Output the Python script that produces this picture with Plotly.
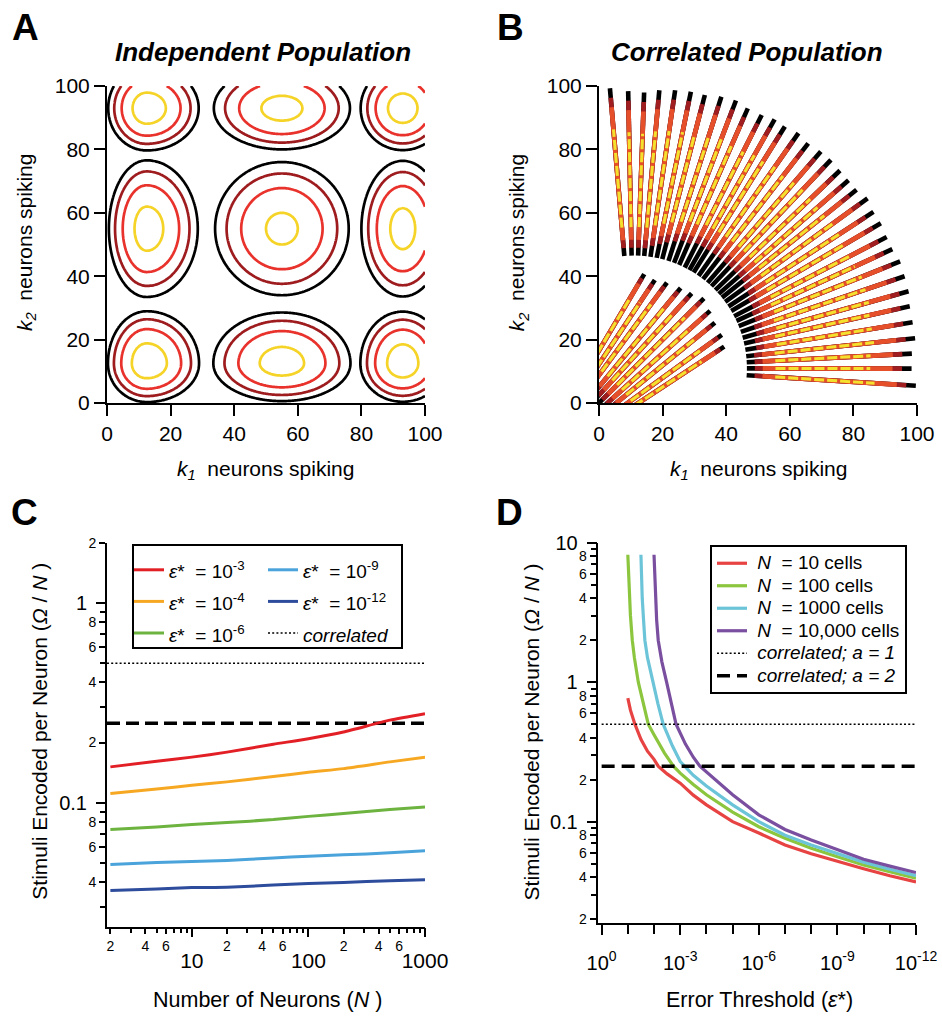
import numpy as np
import plotly.graph_objects as go

# ======================= DATA =======================
# ---- Panel A : independent population (peak model parameters) ----
A_centers = [12.5, 55.0, 93.0]          # peak positions (same for k1 and k2)
A_log_peaks = [1.76, 1.59, 1.71]        # log peak height of each 1-D factor
A_width_lo = [4.6, 8.33, 5.06]          # spread on the low side of each peak
A_width_hi = [6.2, 8.33, 5.06]          # spread on the high side of each peak
A_levels = [0, 1, 2, 3]
A_level_colors = ["#000000", "#9E1B1E", "#E8322B", "#F5D327"]

# ---- Panel B : correlated population (streak fans) ----
B_outer_origin = [11.0, 11.0]
B_outer_angles = [94.9, 91.2, 87.9, 84.8, 81.6, 78.4, 75.5, 72.2, 69.2, 66.4, 63.3, 60.6,
                  58.1, 55.1, 52.3, 49.3, 46.7, 43.9, 41.3, 38.8, 36.1, 33.2, 30.5, 27.5,
                  24.8, 21.9, 18.8, 15.7, 12.7, 9.4, 6.1, 3.0, -0.1, -3.6]
B_outer_r_out = [88.6, 87.4, 87.0, 88.0, 88.6, 89.0, 89.0, 89.9, 90.3, 89.4, 89.4, 90.1,
                 89.8, 90.4, 89.6, 90.1, 90.3, 89.9, 89.8, 89.8, 90.9, 90.0, 90.1, 89.6,
                 89.5, 90.2, 89.9, 89.7, 88.9, 88.8, 88.9, 87.5, 87.3, 88.8]
# extra length of the dark inner tail of each outer streak (longer in the crowded middle)
B_outer_dark_tail = [0, 0, 0, 0, 1, 2, 3, 4, 5, 5, 6, 6,
                     6, 6, 6, 6, 6, 6, 6, 6, 5, 5, 4, 4,
                     3, 3, 2, 2, 1, 1, 0, 0, 0, 0]
B_outer_r_in = 35.5
B_inner_origin = [-24.0, -24.0]
B_inner_angles = [59.4, 56.5, 53.8, 50.5, 47.8, 45.0, 42.0, 39.2, 36.0, 33.4]
B_inner_r_out = [75.1, 75.3, 76.8, 78.1, 79.1, 80.6, 79.3, 78.0, 77.4, 75.9]
B_inner_r_in = 30.0
B_band_colors = ["#000000", "#A11E20", "#E5502A", "#F3E12E"]
B_outer_band_trim = [[0.0, 0.0], [2.5, 3.0], [5.0, 6.0], [9.0, 13.0]]
B_inner_band_trim = [[0.0, 0.0], [5.5, 1.5], [8.0, 3.5], [12.0, 8.5]]

# ---- Panel C ----
C_N = [2, 5, 10, 20, 50, 100, 200, 500, 1000]
C_eps_m3 = [0.151, 0.161, 0.169, 0.179, 0.196, 0.209, 0.226, 0.259, 0.279]
C_eps_m4 = [0.111, 0.117, 0.122, 0.127, 0.135, 0.142, 0.148, 0.160, 0.169]
C_eps_m6 = [0.0733, 0.0754, 0.0776, 0.0794, 0.0822, 0.0853, 0.0881, 0.0923, 0.0951]
C_eps_m9 = [0.0489, 0.0501, 0.0507, 0.0513, 0.0527, 0.0539, 0.0547, 0.0560, 0.0573]
C_eps_m12 = [0.0363, 0.0369, 0.0375, 0.0377, 0.0386, 0.0393, 0.0398, 0.0406, 0.0411]
C_series_exps = ["-3", "-4", "-6", "-9", "-12"]
C_series_colors = ["#E31F26", "#F7A823", "#6DB33F", "#4AA3DA", "#2E4C9C"]
C_correlated_a1 = 0.5
C_correlated_a2 = 0.25
C_xrange_log = [0.272, 3.0]
C_yrange_log = [-1.6235, 0.30103]
C_x_major = [10, 100, 1000]
C_x_labelled = [2, 4, 6, 20, 40, 60, 200, 400, 600]
C_x_plain = [3, 5, 7, 8, 9, 30, 50, 70, 80, 90, 300, 500, 700, 800, 900]
C_y_major = [0.1, 1]
C_y_labelled = [0.04, 0.06, 0.08, 0.2, 0.4, 0.6, 0.8, 2]
C_y_plain = [0.03, 0.05, 0.07, 0.09, 0.3, 0.5, 0.7, 0.9]

# ---- Panel D ----  (x given as the exponent e of epsilon* = 10^-e)
D_n10_exp = [1.0, 1.1, 1.27, 1.5, 1.75, 2.0, 2.16, 2.5, 3.0, 3.5, 4.0, 5.0, 6.0, 7.0, 8.0, 9.0, 10.0, 11.0, 12.0]
D_n10_val = [0.77, 0.63, 0.50, 0.39, 0.32, 0.28, 0.25, 0.22, 0.189, 0.155, 0.132, 0.100, 0.083, 0.068, 0.059, 0.052, 0.046, 0.041, 0.037]
D_n100_exp = [1.0, 1.03, 1.06, 1.1, 1.17, 1.25, 1.4, 1.6, 1.78, 2.0, 2.4, 2.74, 3.0, 3.5, 4.0, 5.0, 6.0, 7.0, 8.0, 9.0, 10.0, 11.0, 12.0]
D_n100_val = [8.2, 5.5, 4.0, 3.0, 2.0, 1.5, 1.0, 0.68, 0.50, 0.42, 0.31, 0.25, 0.223, 0.185, 0.156, 0.117, 0.092, 0.076, 0.0645, 0.056, 0.049, 0.0439, 0.0394]
D_n1000_exp = [1.5, 1.52, 1.55, 1.6, 1.65, 1.75, 1.95, 2.15, 2.35, 2.7, 3.0, 3.18, 3.5, 4.0, 5.0, 6.0, 7.0, 8.0, 9.0, 10.0, 11.0, 12.0]
D_n1000_val = [8.2, 6.0, 4.0, 2.8, 2.0, 1.5, 1.0, 0.70, 0.50, 0.35, 0.27, 0.25, 0.215, 0.18, 0.132, 0.100, 0.080, 0.068, 0.0594, 0.0513, 0.0456, 0.0411]
D_n10000_exp = [2.0, 2.02, 2.05, 2.1, 2.16, 2.3, 2.48, 2.65, 2.84, 3.2, 3.5, 3.75, 4.0, 4.5, 5.0, 6.0, 7.0, 8.0, 9.0, 10.0, 11.0, 12.0]
D_n10000_val = [8.2, 6.0, 4.0, 2.8, 2.0, 1.4, 1.0, 0.70, 0.50, 0.36, 0.29, 0.25, 0.227, 0.19, 0.156, 0.112, 0.088, 0.074, 0.0628, 0.0538, 0.048, 0.0432]
D_series_names = ["10 cells", "100 cells", "1000 cells", "10,000 cells"]
D_series_colors = ["#E84343", "#8CC63F", "#6CC4D8", "#7A4FA0"]
D_correlated_a1 = 0.5
D_correlated_a2 = 0.25
D_xrange_log = [0.15, -12.0]
D_yrange_log = [-1.724, 1.0]
D_x_labelled_exp = [0, 3, 6, 9, 12]
D_x_plain_exp = [1, 2, 4, 5, 7, 8, 10, 11]
D_y_major = [0.1, 1, 10]
D_y_labelled = [0.02, 0.04, 0.06, 0.08, 0.2, 0.4, 0.6, 0.8, 2, 4, 6, 8]
D_y_plain = [0.03, 0.05, 0.07, 0.09, 0.3, 0.5, 0.7, 0.9, 3, 5, 7, 9]

# ======================= LAYOUT HELPERS =======================
W, H = 942, 1020
FONT = "Arial, 'Liberation Sans', Helvetica, sans-serif"


def px(x):
    return x / W


def py(y):
    return 1 - y / H


def font(size, color="black"):
    return dict(family=FONT, size=size, color=color)


def fmt(v):
    return ("%g" % v).replace("0.0", "").replace("0.", "")[-1:]


fig = go.Figure()

# ======================= PANEL A =======================
grid_k = np.linspace(0, 100, 251)


def profile(v):
    out = np.full_like(v, -np.inf)
    for c, a, slo, shi in zip(A_centers, A_log_peaks, A_width_lo, A_width_hi):
        s = np.where(v < c, slo, shi)
        out = np.maximum(out, a - (v - c) ** 2 / (2 * s ** 2))
    return out


fk = profile(grid_k)
Z = np.round(fk[None, :] + fk[:, None], 3)
nlev = len(A_levels) - 1
fig.add_trace(go.Contour(
    x=grid_k, y=grid_k, z=Z, xaxis="x", yaxis="y",
    contours=dict(start=A_levels[0], end=A_levels[-1], size=1, coloring="lines"),
    colorscale=[[i / nlev, c] for i, c in enumerate(A_level_colors)],
    zmin=A_levels[0], zmax=A_levels[-1], showscale=False,
    line=dict(width=2.7), hoverinfo="skip", showlegend=False))

# ======================= PANEL B =======================


def ray_lines(origin, angles, r_in, r_outs, trim, tails):
    xs, ys = [], []
    for ang, ro, tail in zip(angles, r_outs, tails):
        t = np.deg2rad(ang)
        r0 = r_in + trim[0] + (tail if trim[0] > 0 else 0)
        r1 = ro - trim[1]
        xs += [origin[0] + r0 * np.cos(t), origin[0] + r1 * np.cos(t), None]
        ys += [origin[1] + r0 * np.sin(t), origin[1] + r1 * np.sin(t), None]
    return xs, ys


for bi, col in enumerate(B_band_colors):
    is_core = bi == len(B_band_colors) - 1
    for origin, angs, rin, routs, trims, tails in [
            (B_outer_origin, B_outer_angles, B_outer_r_in, B_outer_r_out, B_outer_band_trim,
             B_outer_dark_tail),
            (B_inner_origin, B_inner_angles, B_inner_r_in, B_inner_r_out, B_inner_band_trim,
             [0] * len(B_inner_angles))]:
        xs, ys = ray_lines(origin, angs, rin, routs, trims[bi], tails)
        fig.add_trace(go.Scatter(
            x=xs, y=ys, mode="lines", xaxis="x2", yaxis="y2",
            line=dict(color=col, width=3.0 if is_core else 4.6,
                      dash="10px,3px" if is_core else "solid"),
            hoverinfo="skip", showlegend=False))

# ======================= PANEL C =======================
C_xspan = [10 ** C_xrange_log[0], 10 ** C_xrange_log[1]]
fig.add_trace(go.Scatter(x=C_xspan, y=[C_correlated_a1] * 2, mode="lines", xaxis="x3", yaxis="y3",
                         line=dict(color="black", width=1.5, dash="2px,2.2px"),
                         name="<span style='font-size:19px'><i>correlated</i></span>",
                         legend="legend2", legendrank=6, hoverinfo="skip"))
fig.add_trace(go.Scatter(x=C_xspan, y=[C_correlated_a2] * 2, mode="lines", xaxis="x3", yaxis="y3",
                         line=dict(color="black", width=3.5, dash="13px,6px"),
                         showlegend=False, hoverinfo="skip"))
C_series = [C_eps_m3, C_eps_m4, C_eps_m6, C_eps_m9, C_eps_m12]
for i, (vals, e, col) in enumerate(zip(C_series, C_series_exps, C_series_colors)):
    fig.add_trace(go.Scatter(
        x=C_N, y=vals, mode="lines", xaxis="x3", yaxis="y3",
        line=dict(color=col, width=3, shape="spline", smoothing=0.6),
        name="<span style='font-size:19px'><i>ε</i>*\u00a0 = 10<sup>%s</sup></span>" % e,
        legend="legend" if i < 3 else "legend2", legendrank=i, hoverinfo="skip"))

# ======================= PANEL D =======================
D_xspan = [1.0, 10 ** D_xrange_log[1]]
D_exps = [D_n10_exp, D_n100_exp, D_n1000_exp, D_n10000_exp]
D_vals = [D_n10_val, D_n100_val, D_n1000_val, D_n10000_val]
for e, v, nm, col in zip(D_exps, D_vals, D_series_names, D_series_colors):
    fig.add_trace(go.Scatter(
        x=[10 ** (-x) for x in e], y=v, mode="lines", xaxis="x4", yaxis="y4",
        line=dict(color=col, width=3.2),
        name="<span style='font-size:19px'>\u00a0<i>N</i>\u00a0 = %s</span>" % nm,
        legend="legend3", hoverinfo="skip"))
fig.add_trace(go.Scatter(x=D_xspan, y=[D_correlated_a1] * 2, mode="lines", xaxis="x4", yaxis="y4",
                         line=dict(color="black", width=1.5, dash="2px,2.2px"),
                         name="<span style='font-size:19px'>\u00a0<i>correlated; a = 1</i></span>",
                         legend="legend3", hoverinfo="skip"))
fig.add_trace(go.Scatter(x=D_xspan, y=[D_correlated_a2] * 2, mode="lines", xaxis="x4", yaxis="y4",
                         line=dict(color="black", width=3.5, dash="13px,7px"),
                         name="<span style='font-size:19px'>\u00a0<i>correlated; a = 2</i></span>",
                         legend="legend3", hoverinfo="skip"))

# carriers (draw nothing) so that the overlaid tick axes are rendered
for xa, ya, xv, yv in [("x5", "y3", C_N, C_eps_m3), ("x6", "y3", C_N, C_eps_m3),
                       ("x3", "y5", C_N, C_eps_m3), ("x3", "y7", C_N, C_eps_m3),
                       ("x7", "y4", [10 ** (-x) for x in D_n10_exp], D_n10_val),
                       ("x4", "y6", [10 ** (-x) for x in D_n10_exp], D_n10_val),
                       ("x4", "y8", [10 ** (-x) for x in D_n10_exp], D_n10_val)]:
    fig.add_trace(go.Scatter(x=xv, y=yv, mode="none", xaxis=xa, yaxis=ya,
                             showlegend=False, hoverinfo="skip"))

# ======================= AXES =======================
base = dict(showgrid=False, zeroline=False, showline=True, linecolor="black", linewidth=2,
            ticks="outside", tickcolor="black", tickwidth=1.5, automargin=False)
no_line = dict(showline=False)
lin_ticks = [0, 20, 40, 60, 80, 100]
A_xdom = [px(107), px(425)]
B_xdom = [px(599), px(917)]
AB_ydom = [py(403), py(86)]
C_xdom = [px(107), px(425)]
C_ydom = [py(927), py(543)]
D_xdom = [px(597.7), px(916)]
D_ydom = [py(922.7), py(542.7)]

lin_axis = dict(base, range=[0, 100], tickvals=lin_ticks, ticklen=11, tickfont=font(21))


def lead_digit(v):
    return str(int(round(v / 10 ** np.floor(np.log10(v)))))


C_logx = dict(base, type="log", range=C_xrange_log)
C_logy = dict(base, type="log", range=C_yrange_log)
D_logx = dict(base, type="log", range=D_xrange_log)
D_logy = dict(base, type="log", range=D_yrange_log)

fig.update_layout(
    xaxis=dict(lin_axis, domain=A_xdom, anchor="y"),
    yaxis=dict(lin_axis, domain=AB_ydom, anchor="x"),
    xaxis2=dict(lin_axis, domain=B_xdom, anchor="y2"),
    yaxis2=dict(lin_axis, domain=AB_ydom, anchor="x2"),
    # panel C
    xaxis3=dict(C_logx, domain=C_xdom, anchor="y3", tickvals=C_x_labelled,
                ticktext=[lead_digit(v) for v in C_x_labelled], ticklen=5, tickfont=font(14)),
    xaxis5=dict(C_logx, overlaying="x3", anchor="y3", side="bottom", tickvals=C_x_major,
                ticktext=[str(v) for v in C_x_major], ticklen=9, tickfont=font(21),
                ticklabelstandoff=6, **no_line),
    xaxis6=dict(C_logx, overlaying="x3", anchor="y3", side="bottom", tickvals=C_x_plain,
                showticklabels=False, ticklen=5, **no_line),
    yaxis3=dict(C_logy, domain=C_ydom, anchor="x3", tickvals=C_y_labelled,
                ticktext=[lead_digit(v) for v in C_y_labelled], ticklen=6, tickfont=font(14)),
    yaxis5=dict(C_logy, overlaying="y3", anchor="x3", side="left", tickvals=C_y_major,
                ticktext=["%g" % v for v in C_y_major], ticklen=10, tickfont=font(20),
                ticklabelstandoff=5, **no_line),
    yaxis7=dict(C_logy, overlaying="y3", anchor="x3", side="left", tickvals=C_y_plain,
                showticklabels=False, ticklen=6, **no_line),
    # panel D
    xaxis4=dict(D_logx, domain=D_xdom, anchor="y4",
                tickvals=[10.0 ** (-k) for k in D_x_labelled_exp],
                ticktext=["10<sup>%d</sup>" % (-k) for k in D_x_labelled_exp],
                ticklen=10, tickfont=font(20), ticklabelstandoff=11),
    xaxis7=dict(D_logx, overlaying="x4", anchor="y4", side="bottom",
                tickvals=[10.0 ** (-k) for k in D_x_plain_exp], showticklabels=False,
                ticklen=10, **no_line),
    yaxis4=dict(D_logy, domain=D_ydom, anchor="x4", tickvals=D_y_labelled,
                ticktext=[lead_digit(v) for v in D_y_labelled], ticklen=6, tickfont=font(14)),
    yaxis6=dict(D_logy, overlaying="y4", anchor="x4", side="left", tickvals=D_y_major,
                ticktext=["%g" % v for v in D_y_major], ticklen=10, tickfont=font(20),
                ticklabelstandoff=5, **no_line),
    yaxis8=dict(D_logy, overlaying="y4", anchor="x4", side="left", tickvals=D_y_plain,
                showticklabels=False, ticklen=6, **no_line),
)

# ======================= LEGENDS =======================
fig.update_layout(
    legend=dict(x=px(129), y=py(549), xanchor="left", yanchor="top", bgcolor="rgba(0,0,0,0)",
                borderwidth=0, font=font(22), traceorder="normal"),
    legend2=dict(x=px(263), y=py(549), xanchor="left", yanchor="top", bgcolor="rgba(0,0,0,0)",
                 borderwidth=0, font=font(22), traceorder="normal"),
    legend3=dict(x=px(710), y=py(545), xanchor="left", yanchor="top", bgcolor="white",
                 bordercolor="black", borderwidth=2, font=font(15), traceorder="normal"),
    shapes=[dict(type="rect", xref="paper", yref="paper", x0=px(133), x1=px(402),
                 y0=py(648), y1=py(545), line=dict(color="black", width=2))],
)

# ======================= TEXT =======================
ann = []


def text(x, y, s, size, angle=0, **kw):
    ann.append(dict(x=px(x), y=py(y), xref="paper", yref="paper", text=s, showarrow=False,
                    xanchor="center", yanchor="middle", textangle=angle, font=font(size), **kw))


for letter, x, y in [("A", 25.5, 27), ("B", 510, 27), ("C", 24.5, 512), ("D", 509, 512)]:
    text(x, y, "<b>%s</b>" % letter, 37)
text(262.5, 52, "<b><i>Independent Population</i></b>", 26)
text(746.7, 52, "<b><i>Correlated Population</i></b>", 26)
k1 = "<i>k</i><sub><i>1</i></sub>\u00a0 neurons spiking"
k2 = "<i>k</i><sub><i>2</i></sub>\u00a0 neurons spiking"
text(265.8, 470, k1, 21)
text(758.3, 470, k1, 21)
text(26, 243, k2, 21, angle=-90)
text(518.3, 243, k2, 21, angle=-90)
ylab = "Stimuli Encoded per Neuron (<i>Ω</i> / <i>N</i> )"
text(40, 731.7, ylab, 21, angle=-90)
text(531.7, 731.7, ylab, 21, angle=-90)
text(267.5, 1000, "Number of Neurons (<i>N</i> )", 21.5)
text(759.2, 1000, "Error Threshold (<i>ε</i>*)", 21.5)

fig.update_layout(
    annotations=ann, width=W, height=H, margin=dict(l=0, r=0, t=0, b=0),
    paper_bgcolor="white", plot_bgcolor="rgba(0,0,0,0)", font=font(16), showlegend=True,
)

fig.write_html("out.html")
